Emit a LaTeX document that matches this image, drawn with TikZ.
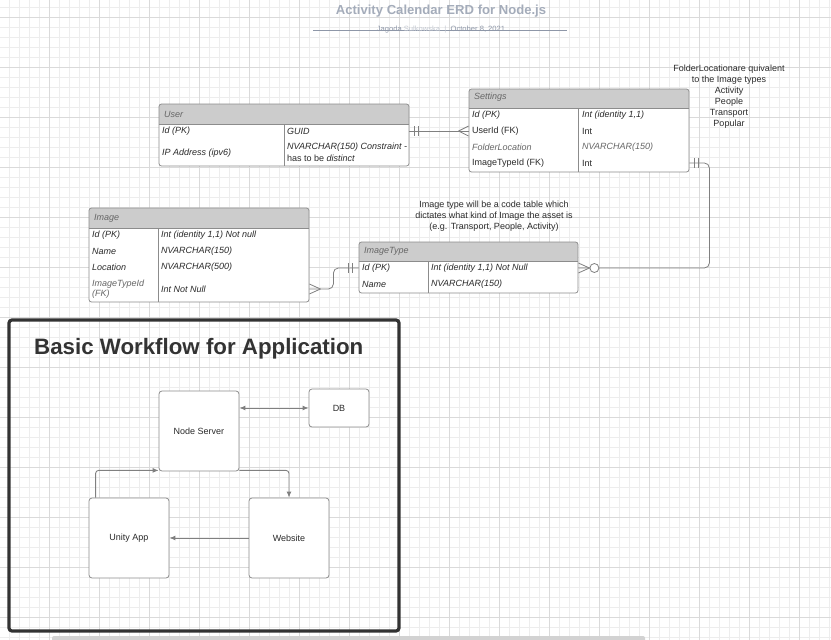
\documentclass[tikz,border=0pt]{standalone}
\usepackage{fontspec}
\setmainfont{Liberation Sans}
\usetikzlibrary{fit,calc,arrows.meta}
\definecolor{gridmin}{HTML}{EDEDED}
\definecolor{gridmaj}{HTML}{DADADA}
\definecolor{tborder}{HTML}{8C8C8C}
\definecolor{hdrfill}{HTML}{CCCCCC}
\definecolor{txt}{HTML}{2A2A2A}
\definecolor{txtgray}{HTML}{666666}
\definecolor{conncol}{HTML}{808080}
\definecolor{titlecol}{HTML}{A4ACBA}
\definecolor{sublight}{HTML}{C4C9D2}
\definecolor{subline}{HTML}{8E97A8}
\definecolor{framecol}{HTML}{333333}
\definecolor{barcol}{HTML}{D2D2D2}
\tikzset{
  tblbox/.style={draw=tborder, line width=0.8pt, rounded corners=2.5pt, inner sep=0pt},
  tblline/.style={draw=tborder, line width=0.8pt},
  cell/.style={anchor=west, inner sep=0pt, text=txt, font=\fontsize{9}{10.5}\selectfont},
  icell/.style={cell, font=\fontsize{9}{10.5}\selectfont\itshape},
  gcell/.style={icell, text=txtgray},
  hcell/.style={icell, text=txtgray},
  note/.style={align=center, inner sep=0pt, text=txt, font=\fontsize{9}{11}\selectfont},
  conn/.style={draw=conncol, line width=0.8pt},
  wfbox/.style={draw=tborder, fill=white, line width=0.8pt, rounded corners=3pt, inner sep=0pt, text=txt, font=\fontsize{9}{10.5}\selectfont},
  wfarrow/.style={draw=conncol, line width=0.9pt, rounded corners=3pt, -{Latex[length=6pt,width=5pt]}},
}
\newcommand\erdtab[7]{% name, x1, y1, x2, y2, yheader, xdivider
  \begin{scope}
    \clip[rounded corners=2.5pt] (#2,#3) rectangle (#4,#5);
    \fill[white] (#2,#3) rectangle (#4,#5);
    \fill[hdrfill] (#2,#3) rectangle (#4,#6);
  \end{scope}
  \draw[tblline] (#2,#6) -- (#4,#6);
  \draw[tblline] (#7,#6) -- (#7,#5);
  \path (#2,#3) coordinate (#1-nw) (#4,#5) coordinate (#1-se);
  \node[tblbox, fit=(#1-nw)(#1-se)] (#1) {};
}
\begin{document}
\begin{tikzpicture}[x=1pt,y=-1pt]
\useasboundingbox (0,0) rectangle (831,640);
% grid
\foreach \i in {1,...,83} \draw[gridmin, line width=0.8pt] (\i*10-0.5,0) -- (\i*10-0.5,640);
\foreach \i in {0,...,63} \draw[gridmin, line width=0.8pt] (0,\i*10+7.3) -- (831,\i*10+7.3);
\foreach \i in {0,...,16} \draw[gridmaj, line width=0.8pt] (\i*50+49.5,0) -- (\i*50+49.5,640);
\foreach \i in {0,...,12} \draw[gridmaj, line width=0.8pt] (0,\i*50+17.3) -- (831,\i*50+17.3);

% title
\node[text=titlecol, font=\fontsize{13.1}{15}\selectfont\bfseries, inner sep=0pt] (title) at (441,11) {Activity Calendar ERD for Node.js};
\draw[subline, line width=0.8pt] (313,30) -- (567,30);
\node[text=subline, font=\fontsize{7.6}{9}\selectfont, inner sep=0pt] (subtitle) at (441,29.5) {Jagoda \textcolor{sublight}{Sulkowska}\ \ \textcolor{sublight}{|}\ \ October 8, 2021};

% User table
\erdtab{user}{159}{104}{409}{166}{124}{284}
\node[hcell] (userh) at (164,114) {User};
\node[icell] (userpk) at (162,131) {Id (PK)};
\node[icell] (userpkt) at (287,131) {GUID};
\node[icell] (userip) at (162,153) {IP Address (ipv6)};
\node[icell] (useript) at (287,147) {NVARCHAR(150) Constraint -};
\node[cell] (useript2) at (287,158) {has to be \textit{distinct}};

% Settings table
\erdtab{sett}{469}{89}{689}{172}{108}{578}
\node[hcell] (setth) at (474,97) {Settings};
\node[icell] (settpk) at (472,115) {Id (PK)};
\node[icell] (settpkt) at (582,115) {Int (identity 1,1)};
\node[cell] (settuid) at (472,131) {UserId (FK)};
\node[cell] (settuidt) at (582,131) {Int};
\node[gcell] (settfl) at (472,147) {FolderLocation};
\node[gcell] (settflt) at (582,147) {NVARCHAR(150)};
\node[cell] (settit) at (472,163) {ImageTypeId (FK)};
\node[cell] (settitt) at (582,163) {Int};

% Image table
\erdtab{img}{89}{208}{309}{302}{228}{158}
\node[hcell] (imgh) at (94,218) {Image};
\node[icell] (imgpk) at (92,235) {Id (PK)};
\node[icell] (imgpkt) at (161,235) {Int (identity 1,1) Not null};
\node[icell] (imgname) at (92,251) {Name};
\node[icell] (imgnamet) at (161,251) {NVARCHAR(150)};
\node[icell] (imgloc) at (92,267) {Location};
\node[icell] (imglt) at (161,267) {NVARCHAR(500)};
\node[gcell, align=left] (imgfk) at (92,289) {ImageTypeId\\(FK)};
\node[icell] (imgfkt) at (161,289) {Int Not Null};

% ImageType table
\erdtab{itype}{359}{242}{578}{293}{261}{428}
\node[hcell] (itypeh) at (364,251) {ImageType};
\node[icell] (itypepk) at (362,268) {Id (PK)};
\node[icell] (itypepkt) at (431,268) {Int (identity 1,1) Not Null};
\node[icell] (itypename) at (362,284) {Name};
\node[icell] (itypenamet) at (431,284) {NVARCHAR(150)};

% notes
\node[note] (note1) at (729,97) {FolderLocationare quivalent\\to the Image types\\Activity\\People\\Transport\\Popular};
\node[note] (note2) at (494,216) {Image type will be a code table which\\dictates what kind of Image the asset is\\(e.g. Transport, People, Activity)};

% connector User -- Settings
\draw[conn] (user.east |- settuid.west) -- (sett.west |- settuid.west);
\draw[conn] ($(user.east |- settuid.west)+(5,-5)$) -- ++(0,10);
\draw[conn] ($(user.east |- settuid.west)+(9,-5)$) -- ++(0,10);
\draw[conn] ($(sett.west |- settuid.west)+(-10,0)$) -- ++(10,-5);
\draw[conn] ($(sett.west |- settuid.west)+(-10,0)$) -- ++(10,5);

% connector Settings -- ImageType
\draw[conn, rounded corners=5pt] (sett.east |- settit.west) -- ++(20,0) |- (itype.east |- itypepk.west);
\draw[conn] ($(sett.east |- settit.west)+(5,-5)$) -- ++(0,10);
\draw[conn] ($(sett.east |- settit.west)+(9,-5)$) -- ++(0,10);
\draw[conn] ($(itype.east |- itypepk.west)+(11,0)$) -- ++(-11,-5);
\draw[conn] ($(itype.east |- itypepk.west)+(11,0)$) -- ++(-11,5);
\draw[conn, fill=white] ($(itype.east |- itypepk.west)+(16,0)$) circle (4.5pt);

% connector Image -- ImageType
\draw[conn, rounded corners=5pt] (img.east |- imgfkt.west) -- ++(24,0) |- (itype.west |- itypepk.west);
\draw[conn] ($(img.east |- imgfkt.west)+(11,0)$) -- ++(-11,-5);
\draw[conn] ($(img.east |- imgfkt.west)+(11,0)$) -- ++(-11,5);
\draw[conn] ($(itype.west |- itypepk.west)+(-10,-5)$) -- ++(0,10);
\draw[conn] ($(itype.west |- itypepk.west)+(-6,-5)$) -- ++(0,10);

% workflow frame
\draw[framecol, line width=3.2pt, rounded corners=3pt] (9,320) rectangle (399,631);
\node[anchor=west, inner sep=0pt, text=framecol, font=\fontsize{22.3}{26}\selectfont\bfseries] (wftitle) at (34,349) {Basic Workflow for Application};

\node[wfbox, minimum width=80pt, minimum height=80pt] (ns) at (199,431) {Node Server};
\node[wfbox, minimum width=60pt, minimum height=38pt] (db) at (339,408) {DB};
\node[wfbox, minimum width=80pt, minimum height=80pt] (unity) at (129,538) {Unity App};
\node[wfbox, minimum width=80pt, minimum height=80pt] (web) at (289,538) {Website};

\draw[wfarrow, {Latex[length=6pt,width=5pt]}-{Latex[length=6pt,width=5pt]}] (db.west -| ns.east) -- (db.west);
\draw[wfarrow] ($(unity.north west)+(7,0)$) |- ($(ns.south west)+(0,-1)$);
\draw[wfarrow] ($(ns.south east)+(0,-1)$) -| (web.north);
\draw[wfarrow] (web.west) -- (unity.east);

% bottom bar
\fill[barcol, rounded corners=2pt] (52,636) rectangle (645,644);
\end{tikzpicture}
\end{document}
